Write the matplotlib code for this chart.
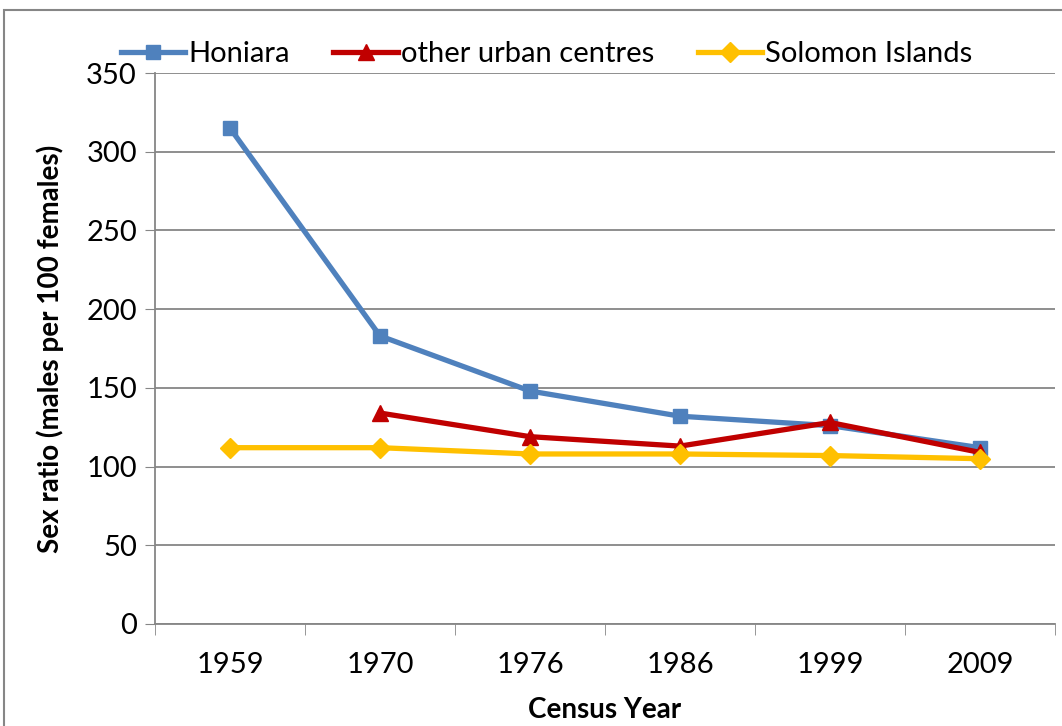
import numpy as np
import matplotlib.pyplot as plt
from matplotlib.patches import Rectangle

# census data
years = ['1959', '1970', '1976', '1986', '1999', '2009']
honiara = [315, 183, 148, 132, 126, 112]
other_urban = [np.nan, 134, 119, 113, 128, 109]
solomon = [112, 112, 108, 108, 107, 105]

plt.rcParams['font.family'] = ['Lato', 'DejaVu Sans']

fig = plt.figure(figsize=(10.62, 7.26), dpi=100)
ax = fig.add_axes([155 / 1062, 1 - 624 / 726, 900 / 1062, 551 / 726])

x = np.arange(len(years))
ax.plot(x, honiara, color='#4F81BD', lw=3.8, marker='s', ms=10, label='Honiara')
ax.plot(x, other_urban, color='#C00000', lw=3.8, marker='^', ms=12, label='other urban centres')
ax.plot(x, solomon, color='#FFC000', lw=3.8, marker='D', ms=10, label='Solomon Islands')

ax.set_xlim(-0.5, len(years) - 0.5)
ax.set_ylim(0, 350)
ax.set_yticks(np.arange(0, 351, 50))
ax.set_xticks(x)
ax.set_xticklabels(years)
ax.set_xticks(np.arange(-0.5, len(years)), minor=True)
ax.tick_params(axis='x', which='major', length=0, pad=20, labelsize=21)
ax.tick_params(axis='x', which='minor', length=8, color='#868686')
ax.tick_params(axis='y', length=7, color='#868686', labelsize=21, pad=6)
ax.grid(axis='y', color='#868686', lw=1.3)
ax.set_axisbelow(True)
for s in ['top', 'right']:
    ax.spines[s].set_visible(False)
for s in ['left', 'bottom']:
    ax.spines[s].set_color('#868686')
    ax.spines[s].set_linewidth(1.3)

ax.set_ylabel('Sex ratio (males per 100 females)', fontsize=20, fontweight='bold', labelpad=16)
ax.set_xlabel('Census Year', fontsize=20, fontweight='bold', labelpad=14)

ax.legend(loc='lower center', bbox_to_anchor=(0.435, 0.99), ncol=3, frameon=False,
          fontsize=21, handlelength=2.2, handletextpad=0.1, columnspacing=1.5,
          borderaxespad=0)

# chart border
fig.patches.append(Rectangle((4 / 1062, -0.1), 1.1, 1 - 10 / 726 + 0.1,
                             transform=fig.transFigure, fill=False,
                             edgecolor='#868686', lw=1.5))

fig.savefig('out.png', dpi=100)
